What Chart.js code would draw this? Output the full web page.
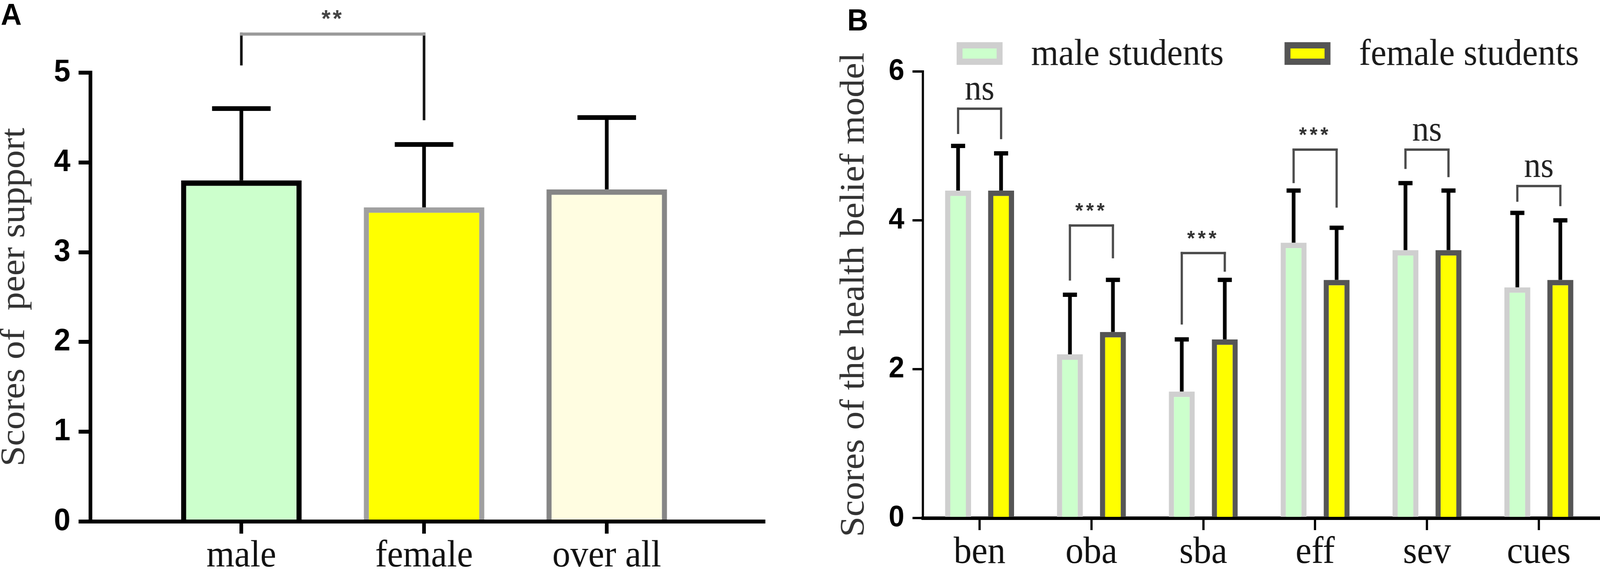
<!DOCTYPE html>
<html>
<head>
<meta charset="utf-8">
<script src="https://cdn.jsdelivr.net/npm/chart.js@4.4.1/dist/chart.umd.min.js"></script>
<style>
  html, body { margin: 0; padding: 0; background: #fff; overflow: hidden; }
  #stage { position: absolute; left: 0; top: 0; width: 4317px; height: 1477px; transform-origin: 0 0; }
  #chartA { position: absolute; left: 0; top: 0; }
  #chartB { position: absolute; left: 2150px; top: 0; }
  .tag { position: absolute; font: bold 78px "Liberation Sans", Arial, sans-serif; line-height: 1; color: #000; }
</style>
</head>
<body>
<div id="stage">
  <canvas id="chartA" width="2150" height="1477"></canvas>
  <canvas id="chartB" width="2167" height="1477"></canvas>
  <div class="tag" style="left:2px;top:-2px">A</div>
  <div class="tag" style="left:2286px;top:12px">B</div>
</div>
<script>
// fit the 4317x1477 figure into whatever viewport we get
const stage = document.getElementById("stage");
function fitStage() {
  const sx = window.innerWidth / 4317;
  const sy = window.innerHeight / 1477;
  stage.style.transform = "scale(" + sx + "," + sy + ")";
}
fitStage();
window.addEventListener("resize", fitStage);

// panel A - peer support
const groupsA = ["male", "female", "over all"];
const meansA = [3.8, 3.5, 3.7];
const sdA = [0.8, 0.7, 0.8];
const ticksA = [0, 1, 2, 3, 4, 5];

// panel B - health belief model
const itemsB = ["ben", "oba", "sba", "eff", "sev", "cues"];
const seriesB = ["male students", "female students"];
const maleB = [4.4, 2.2, 1.7, 3.7, 3.6, 3.1];
const maleSdB = [0.6, 0.8, 0.7, 0.7, 0.9, 1.0];
const femaleB = [4.4, 2.5, 2.4, 3.2, 3.6, 3.2];
const femaleSdB = [0.5, 0.7, 0.8, 0.7, 0.8, 0.8];
const ticksB = [0, 2, 4, 6];

// significance marks, bracket levels in score units
const sigA = ["**"];
const sigTopA = [5.43];
const sigLegA = [[5.08, 4.47]];
const sigB = ["ns", "***", "***", "***", "ns", "ns"];
const sigTopB = [5.5, 3.93, 3.56, 4.95, 4.95, 4.46];
const sigLegB = [[5.16, 5.09], [3.19, 3.49], [2.6, 3.31], [4.5, 4.17], [4.69, 4.58], [4.25, 4.19]];

const serif = "'Liberation Serif', 'Times New Roman', serif";
const sans = "'Liberation Sans', Arial, sans-serif";

// error bars + brackets
function makeAnnotations(id, brackets, st) {
  return {
    id: id,
    afterDatasetsDraw(chart) {
      const ctx = chart.ctx;
      const y = chart.scales.y;
      ctx.save();
      chart.data.datasets.forEach((ds, di) => {
        chart.getDatasetMeta(di).data.forEach((bar, i) => {
          const top = y.getPixelForValue(ds.data[i].y + ds.sd[i]);
          ctx.strokeStyle = "#000";
          ctx.lineWidth = st.errWidth;
          ctx.beginPath();
          ctx.moveTo(bar.x, bar.y);
          ctx.lineTo(bar.x, top);
          ctx.stroke();
          ctx.fillStyle = "#000";
          ctx.fillRect(bar.x - st.capWidth / 2, top - st.capHeight / 2, st.capWidth, st.capHeight);
        });
      });
      brackets.forEach(b => {
        const p = chart.getDatasetMeta(b.from[0]).data[b.from[1]];
        const q = chart.getDatasetMeta(b.to[0]).data[b.to[1]];
        const top = y.getPixelForValue(b.top);
        ctx.lineCap = "butt";
        // legs
        ctx.strokeStyle = st.legColor;
        ctx.lineWidth = st.legWidth;
        ctx.beginPath();
        ctx.moveTo(p.x, y.getPixelForValue(b.legs[0]));
        ctx.lineTo(p.x, top - st.topWidth / 2);
        ctx.moveTo(q.x, y.getPixelForValue(b.legs[1]));
        ctx.lineTo(q.x, top - st.topWidth / 2);
        ctx.stroke();
        // top bar
        ctx.strokeStyle = st.topColor;
        ctx.lineWidth = st.topWidth;
        ctx.beginPath();
        ctx.moveTo(p.x - st.legWidth / 2, top);
        ctx.lineTo(q.x + st.legWidth / 2, top);
        ctx.stroke();
        const stars = b.label.indexOf("*") >= 0;
        ctx.font = stars ? st.starFont : st.nsFont;
        ctx.fillStyle = stars ? st.starColor : st.nsColor;
        ctx.letterSpacing = stars ? st.starSpacing : "0px";
        ctx.textAlign = "center";
        ctx.textBaseline = "alphabetic";
        const m = ctx.measureText(b.label);
        const gap = stars ? st.starGap : st.nsGap;
        ctx.fillText(b.label, (p.x + q.x) / 2, top - gap - m.actualBoundingBoxDescent);
      });
      ctx.restore();
    }
  };
}

// legend for panel B, built from the datasets
const legendB = {
  id: "legendB",
  afterDraw(chart) {
    const ctx = chart.ctx;
    const lg = { x: 431, top: 108, w: 124, h: 58, border: 16, textGap: 77, itemGap: 164, baseline: 166 };
    ctx.save();
    ctx.font = "95px " + serif;
    ctx.textAlign = "left";
    ctx.textBaseline = "alphabetic";
    let x = lg.x;
    chart.data.datasets.forEach(ds => {
      ctx.fillStyle = ds.borderColor;
      ctx.fillRect(x, lg.top, lg.w, lg.h);
      ctx.fillStyle = ds.backgroundColor;
      ctx.fillRect(x + lg.border, lg.top + lg.border, lg.w - 2 * lg.border, lg.h - 2 * lg.border);
      x += lg.w + lg.textGap;
      ctx.fillStyle = "#1a1a1a";
      ctx.fillText(ds.label, x, lg.baseline);
      x += ctx.measureText(ds.label).width + lg.itemGap;
    });
    ctx.restore();
  }
};

function xAxis(labels, min, max, height, border, tickW) {
  return {
    type: "linear", min: min, max: max, offset: false,
    afterBuildTicks: s => { s.ticks = labels.map((l, i) => ({ value: i })); },
    afterFit: s => { s.height = height; },
    grid: { offset: false, drawOnChartArea: false, drawTicks: true, tickLength: 31, tickWidth: tickW, lineWidth: tickW, tickColor: "#000", color: "#000" },
    border: { display: true, width: border, color: "#000" },
    ticks: { autoSkip: false, maxRotation: 0, padding: 0, color: "#111", font: { family: serif, size: 97 },
      callback: v => labels[v] }
  };
}

function yAxis(ticks, width, fontSize, border, tickW, tickLen, title, titleTop) {
  return {
    min: ticks[0], max: ticks[ticks.length - 1],
    afterBuildTicks: s => { s.ticks = ticks.map(v => ({ value: v })); },
    afterFit: s => { s.width = width; },
    grid: { drawOnChartArea: false, drawTicks: true, tickLength: tickLen, tickWidth: tickW, lineWidth: tickW, tickColor: "#000", color: "#000" },
    border: { display: true, width: border, color: "#000" },
    ticks: { padding: 22, color: "#000", font: { family: sans, size: fontSize, weight: "bold" } },
    title: { display: true, text: title, color: "#333", padding: { top: titleTop, bottom: 0 },
      font: { family: serif, size: 94, lineHeight: 1 } }
  };
}

new Chart(document.getElementById("chartA"), {
  type: "bar",
  data: {
    datasets: [{
      label: "peer support",
      data: groupsA.map((g, i) => ({ x: i, y: meansA[i] })),
      sd: sdA,
      backgroundColor: ["#ccffcc", "#ffff00", "#fffde1"],
      borderColor: ["#000000", "#a0a0a0", "#868686"],
      borderWidth: 14,
      categoryPercentage: 1,
      barPercentage: 0.66
    }]
  },
  options: {
    responsive: false, animation: false, devicePixelRatio: 1,
    layout: { padding: { top: 186, right: 90, left: 0, bottom: 0 } },
    plugins: { legend: { display: false }, tooltip: { enabled: false } },
    scales: {
      x: xAxis(groupsA, -0.826, 2.858, 142, 10, 10),
      y: yAxis(ticksA, 244, 80, 10, 10, 32, "Scores of  peer support", -7)
    }
  },
  plugins: [makeAnnotations("annA",
    sigA.map((s, i) => ({ from: [0, 0], to: [0, 1], label: s, top: sigTopA[i], legs: sigLegA[i] })),
    { errWidth: 10, capWidth: 158, capHeight: 12,
      legColor: "#111", legWidth: 7, topColor: "#9a9a9a", topWidth: 8,
      starFont: "bold 62px " + sans, starColor: "#444", starSpacing: "6px", starGap: 38,
      nsFont: "90px " + serif, nsColor: "#222", nsGap: 20 })]
});

new Chart(document.getElementById("chartB"), {
  type: "bar",
  data: {
    datasets: [
      { label: seriesB[0], data: itemsB.map((c, i) => ({ x: i, y: maleB[i] })), sd: maleSdB,
        backgroundColor: "#ccffcc", borderColor: "#cfcfcf", borderWidth: 14,
        categoryPercentage: 0.769, barPercentage: 0.603 },
      { label: seriesB[1], data: itemsB.map((c, i) => ({ x: i, y: femaleB[i] })), sd: femaleSdB,
        backgroundColor: "#ffff00", borderColor: "#555555", borderWidth: 14,
        categoryPercentage: 0.769, barPercentage: 0.603 }
    ]
  },
  options: {
    responsive: false, animation: false, devicePixelRatio: 1,
    layout: { padding: { top: 183, right: 0, left: 0, bottom: 0 } },
    plugins: { legend: { display: false }, tooltip: { enabled: false } },
    scales: {
      x: xAxis(itemsB, -0.507, 5.547, 151, 9, 6),
      y: yAxis(ticksB, 340, 76, 6, 6, 28, "Scores of the health belief model", 108)
    }
  },
  plugins: [makeAnnotations("annB",
    sigB.map((s, i) => ({ from: [0, i], to: [1, i], label: s, top: sigTopB[i], legs: sigLegB[i] })),
    { errWidth: 10, capWidth: 38, capHeight: 11,
      legColor: "#4a4a4a", legWidth: 6, topColor: "#4a4a4a", topWidth: 6,
      starFont: "bold 54px " + sans, starColor: "#333", starSpacing: "8px", starGap: 36,
      nsFont: "90px " + serif, nsColor: "#222", nsGap: 22 }), legendB]
});
</script>
</body>
</html>
